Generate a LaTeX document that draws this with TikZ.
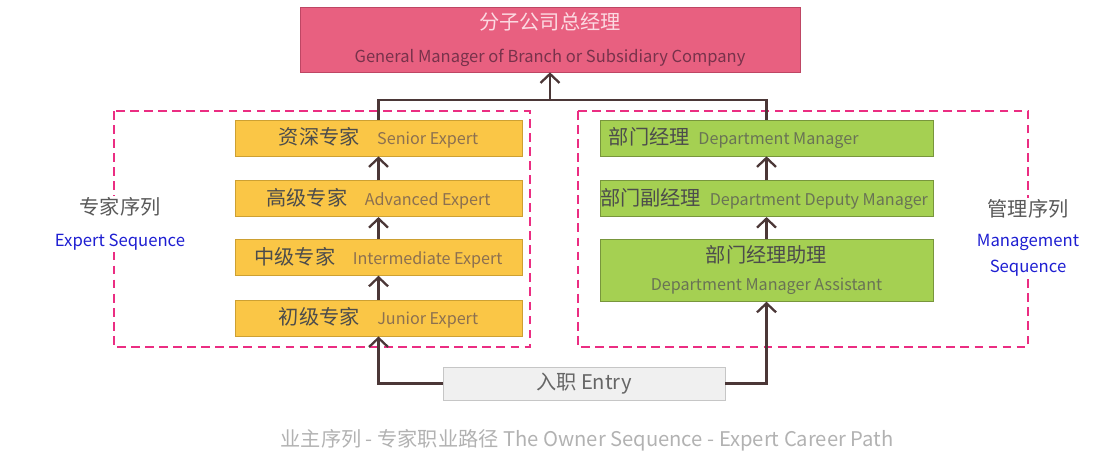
\documentclass[tikz,border=0pt]{standalone}
\usepackage{fontspec}
\setmainfont{Noto Sans CJK SC}
\usetikzlibrary{positioning,arrows.meta}
\definecolor{gmpink}{RGB}{232,96,128}
\definecolor{gmedge}{RGB}{190,70,100}
\definecolor{gmlight}{RGB}{252,218,226}
\definecolor{gmdark}{RGB}{120,50,75}
\definecolor{expyellow}{RGB}{250,198,70}
\definecolor{expedge}{RGB}{205,160,50}
\definecolor{exptext}{RGB}{140,112,80}
\definecolor{mgrgreen}{RGB}{165,208,82}
\definecolor{mgredge}{RGB}{120,150,60}
\definecolor{mgrtext}{RGB}{105,115,85}
\definecolor{seqpink}{RGB}{235,45,130}
\definecolor{seqblue}{RGB}{30,30,210}
\definecolor{linkdark}{RGB}{75,55,55}
\newcommand{\cnbig}{\fontsize{11.5pt}{13pt}\selectfont}
\newcommand{\ensmall}{\fontsize{9.2pt}{11pt}\selectfont}

\begin{document}
\begin{tikzpicture}[x=0.02cm,y=-0.02cm,node distance=0.48cm,
  every node/.style={inner sep=2pt},
  topbox/.style={draw=gmedge,fill=gmpink,minimum width=10cm,minimum height=1.3cm,align=center},
  expbox/.style={draw=expedge,fill=expyellow,minimum width=5.74cm,minimum height=0.72cm},
  mgrbox/.style={draw=mgredge,fill=mgrgreen,minimum width=6.66cm,minimum height=0.72cm},
  entrybox/.style={draw=gray!45,fill=gray!12,minimum width=5.64cm,minimum height=0.66cm,text=black!60},
  seqframe/.style={draw=seqpink,line width=1.6pt,dash pattern=on 5pt off 3pt},
  seqlabel/.style={fill=white,align=center,inner sep=1pt},
  link/.style={draw=linkdark,line width=1.3pt},
  uparrow/.style={link,-{Straight Barb[length=1.8mm,width=3.8mm,line width=1.3pt]}}]
  \useasboundingbox (0,0) rectangle (1108,464);

  % sequence frames
  \draw[seqframe] (114,111) rectangle (530,347);
  \draw[seqframe] (578,111) rectangle (1028,347);

  % top
  \node[topbox] (gm) at (550,39.5) {{\cnbig\color{gmlight}分子公司总经理}\\[7pt]{\fontsize{9.4pt}{11pt}\selectfont\color{gmdark}General Manager of Branch or Subsidiary Company}};

  % expert sequence
  \node[expbox] (senior) at (378.5,138) {{\cnbig\color{black!70}资深专家}\quad{\ensmall\color{exptext}Senior Expert}};
  \node[expbox,below=of senior] (advanced) {{\cnbig\color{black!70}高级专家}\quad{\ensmall\color{exptext}Advanced Expert}};
  \node[expbox,below=0.44cm of advanced] (middle) {{\cnbig\color{black!70}中级专家}\quad{\ensmall\color{exptext}Intermediate Expert}};
  \node[expbox,below=of middle] (junior) {{\cnbig\color{black!70}初级专家}\quad{\ensmall\color{exptext}Junior Expert}};

  % management sequence
  \node[mgrbox] (mgr) at (766.5,138) {};
  \node[anchor=west] at ([xshift=3pt]mgr.west) {{\cnbig\color{black!70}部门经理}\enspace{\ensmall\color{mgrtext}Department Manager}};
  \node[mgrbox,below=of mgr] (deputy) {};
  \node[anchor=west,inner sep=0pt] at (deputy.west) {{\cnbig\color{black!70}部门副经理}\enspace{\ensmall\color{mgrtext}Department Deputy Manager}};
  \node[mgrbox,below=0.44cm of deputy,minimum height=1.24cm,align=center] (assist) {{\cnbig\color{black!70}部门经理助理}\\[4pt]{\ensmall\color{mgrtext}Department Manager Assistant}};

  % entry
  \node[entrybox] (entry) at (584,383.5) {\cnbig 入职 Entry};

  % labels
  \node[seqlabel] (explabel) at (120,224) {{\cnbig\color{black!65}专家序列}\\[6pt]{\fontsize{9.5pt}{11pt}\selectfont\color{seqblue}Expert Sequence}};
  \node[seqlabel,font=\fontsize{9.5pt}{11pt}\selectfont,text=seqblue] (mgrlabel) at (1028,238) {{\cnbig\color{black!65}管理序列}\\[6pt]Management\\[4pt]Sequence};

  % connectors
  \coordinate (join) at (550,100);
  \draw[link] (senior.north) |- (join) -| (mgr.north);
  \draw[uparrow] (join) -- (gm.south);
  \draw[uparrow] (advanced) -- (senior);
  \draw[uparrow] (middle) -- (advanced);
  \draw[uparrow] (junior) -- (middle);
  \draw[uparrow] (deputy) -- (mgr);
  \draw[uparrow] (assist) -- (deputy);
  \draw[uparrow] (entry.west) -| (junior.south);
  \draw[uparrow] (entry.east) -| (assist.south);

  % caption
  \node[text=gray!60] (caption) at (587,440) {\fontsize{11.5pt}{14pt}\selectfont 业主序列 - 专家职业路径 The Owner Sequence - Expert Career Path};
\end{tikzpicture}
\end{document}
